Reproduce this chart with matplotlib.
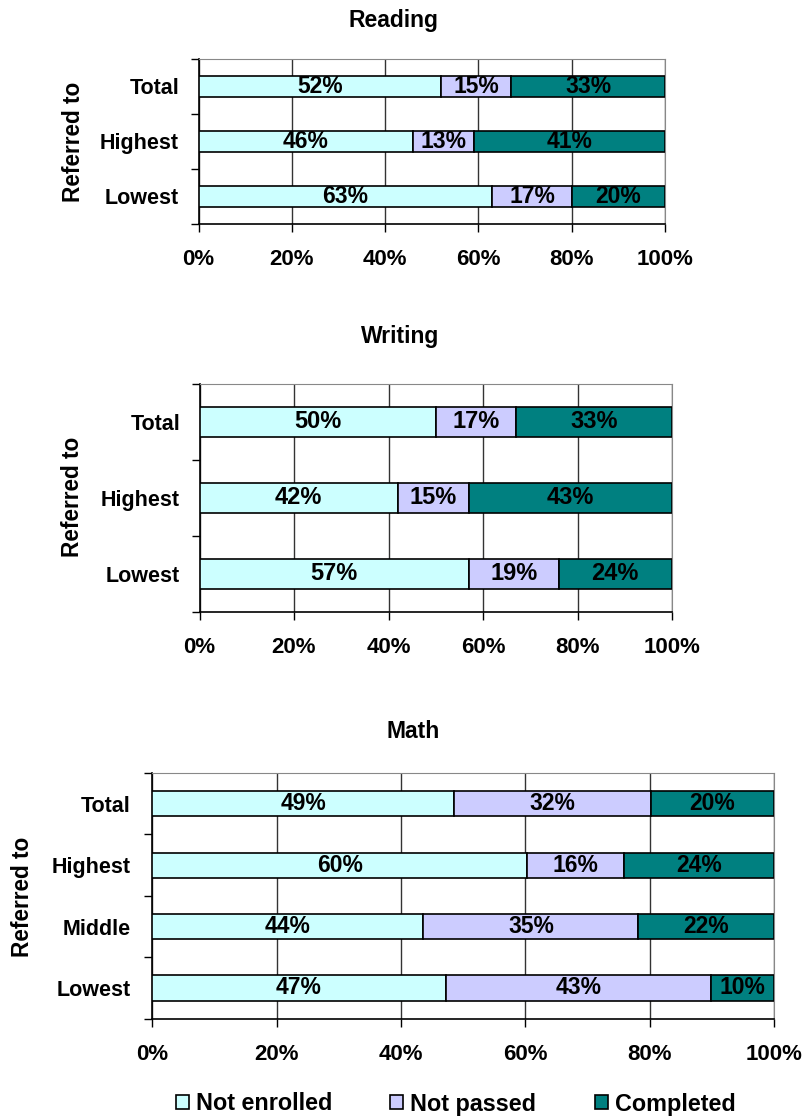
import matplotlib
matplotlib.use("Agg")
import matplotlib.pyplot as plt
from matplotlib.patches import Rectangle
from matplotlib.ticker import FixedLocator, NullFormatter, FuncFormatter

plt.rcParams['font.family'] = ['Liberation Sans', 'DejaVu Sans']
plt.rcParams['font.weight'] = 'bold'

# ---- data ----
series_names = ["Not enrolled", "Not passed", "Completed"]
series_colors = ["#CCFFFF", "#CCCCFF", "#008080"]

reading_cats = ["Total", "Highest", "Lowest"]
reading_not_enrolled = [52, 46, 63]
reading_not_passed = [15, 13, 17]
reading_completed = [33, 41, 20]

writing_cats = ["Total", "Highest", "Lowest"]
writing_not_enrolled = [50, 42, 57]
writing_not_passed = [17, 15, 19]
writing_completed = [33, 43, 24]

math_cats = ["Total", "Highest", "Middle", "Lowest"]
math_not_enrolled = [48.6, 60.3, 43.6, 47.2]
math_not_passed = [31.6, 15.6, 34.6, 42.6]
math_completed = [19.8, 24.1, 21.8, 10.2]

x_ticks = [0, 20, 40, 60, 80, 100]

W, H = 807, 1117
fig = plt.figure(figsize=(W / 100, H / 100), dpi=100)


def px_axes(left, top, right, bottom):
    return fig.add_axes([left / W, 1 - bottom / H, (right - left) / W, (bottom - top) / H])


def draw_panel(ax, cats, s1, s2, s3, bar_h, label_size, ypad):
    n = len(cats)
    ys = list(range(n))
    lefts = [0] * n
    for vals, color in zip([s1, s2, s3], series_colors):
        bars = ax.barh(ys, vals, left=lefts, height=bar_h, color=color,
                       edgecolor="black", linewidth=1.2, zorder=3)
        for b, v in zip(bars, vals):
            ax.text(b.get_x() + b.get_width() / 2, b.get_y() + b.get_height() / 2,
                    f"{round(v)}%", ha="center", va="center",
                    fontsize=label_size, fontweight="bold", color="black", zorder=4)
        lefts = [l + v for l, v in zip(lefts, vals)]
    ax.set_xlim(0, 100)
    ax.set_ylim(n - 0.5, -0.5)
    ax.set_xticks(x_ticks)
    ax.xaxis.set_major_formatter(FuncFormatter(lambda v, p: f"{int(v)}%"))
    ax.set_yticks(ys)
    ax.set_yticklabels(cats)
    ax.yaxis.set_minor_locator(FixedLocator([i - 0.5 for i in range(n + 1)]))
    ax.yaxis.set_minor_formatter(NullFormatter())
    ax.tick_params(axis="y", which="major", length=0, pad=ypad, labelsize=15.5)
    ax.tick_params(axis="y", which="minor", length=5.5, width=1, color="black", direction="out")
    ax.tick_params(axis="x", which="major", length=6, width=1, pad=12, labelsize=16)
    for lab in ax.get_xticklabels() + ax.get_yticklabels():
        lab.set_fontweight("bold")
    ax.grid(axis="x", color="#333333", linewidth=1, zorder=0)
    ax.spines["left"].set_color("black")
    ax.spines["bottom"].set_color("black")
    ax.spines["left"].set_linewidth(1.2)
    ax.spines["bottom"].set_linewidth(1.2)
    ax.spines["top"].set_color("#888888")
    ax.spines["right"].set_color("#888888")
    ax.set_axisbelow(True)


def ylabel(x, y):
    fig.text(x / W, 1 - y / H, "Referred to", rotation=90, ha="center", va="center",
             fontsize=16.3, fontweight="bold")


def title(x, y, s):
    fig.text(x / W, 1 - y / H, s, ha="center", va="center", fontsize=16.5, fontweight="bold")


# Reading
ax1 = px_axes(198.5, 59, 665, 224)
draw_panel(ax1, reading_cats, reading_not_enrolled, reading_not_passed, reading_completed, 0.39, 16.5, 14)
title(394, 20, "Reading")
ylabel(73, 142)

# Writing
ax2 = px_axes(199.5, 384, 672, 612)
draw_panel(ax2, writing_cats, writing_not_enrolled, writing_not_passed, writing_completed, 0.40, 17, 14)
title(400, 336, "Writing")
ylabel(72.5, 497)

# Math
ax3 = px_axes(152.3, 773, 774, 1018.7)
draw_panel(ax3, math_cats, math_not_enrolled, math_not_passed, math_completed, 0.41, 16.5, 15.5)
title(413, 732, "Math")
ylabel(22.5, 897)

# Legend
handles = [Rectangle((0, 0), 1, 1, facecolor=c, edgecolor="black", linewidth=1.2)
           for c in series_colors]
leg = fig.legend(handles, series_names, loc="center", bbox_to_anchor=(455.5 / W, 1 - 1104 / H),
                 ncol=3, frameon=False, handlelength=0.56, handleheight=0.56,
                 handletextpad=0.3, columnspacing=2.5, borderpad=0, borderaxespad=0,
                 prop={"weight": "bold", "size": 16.8})

fig.savefig("out.png", dpi=100)
